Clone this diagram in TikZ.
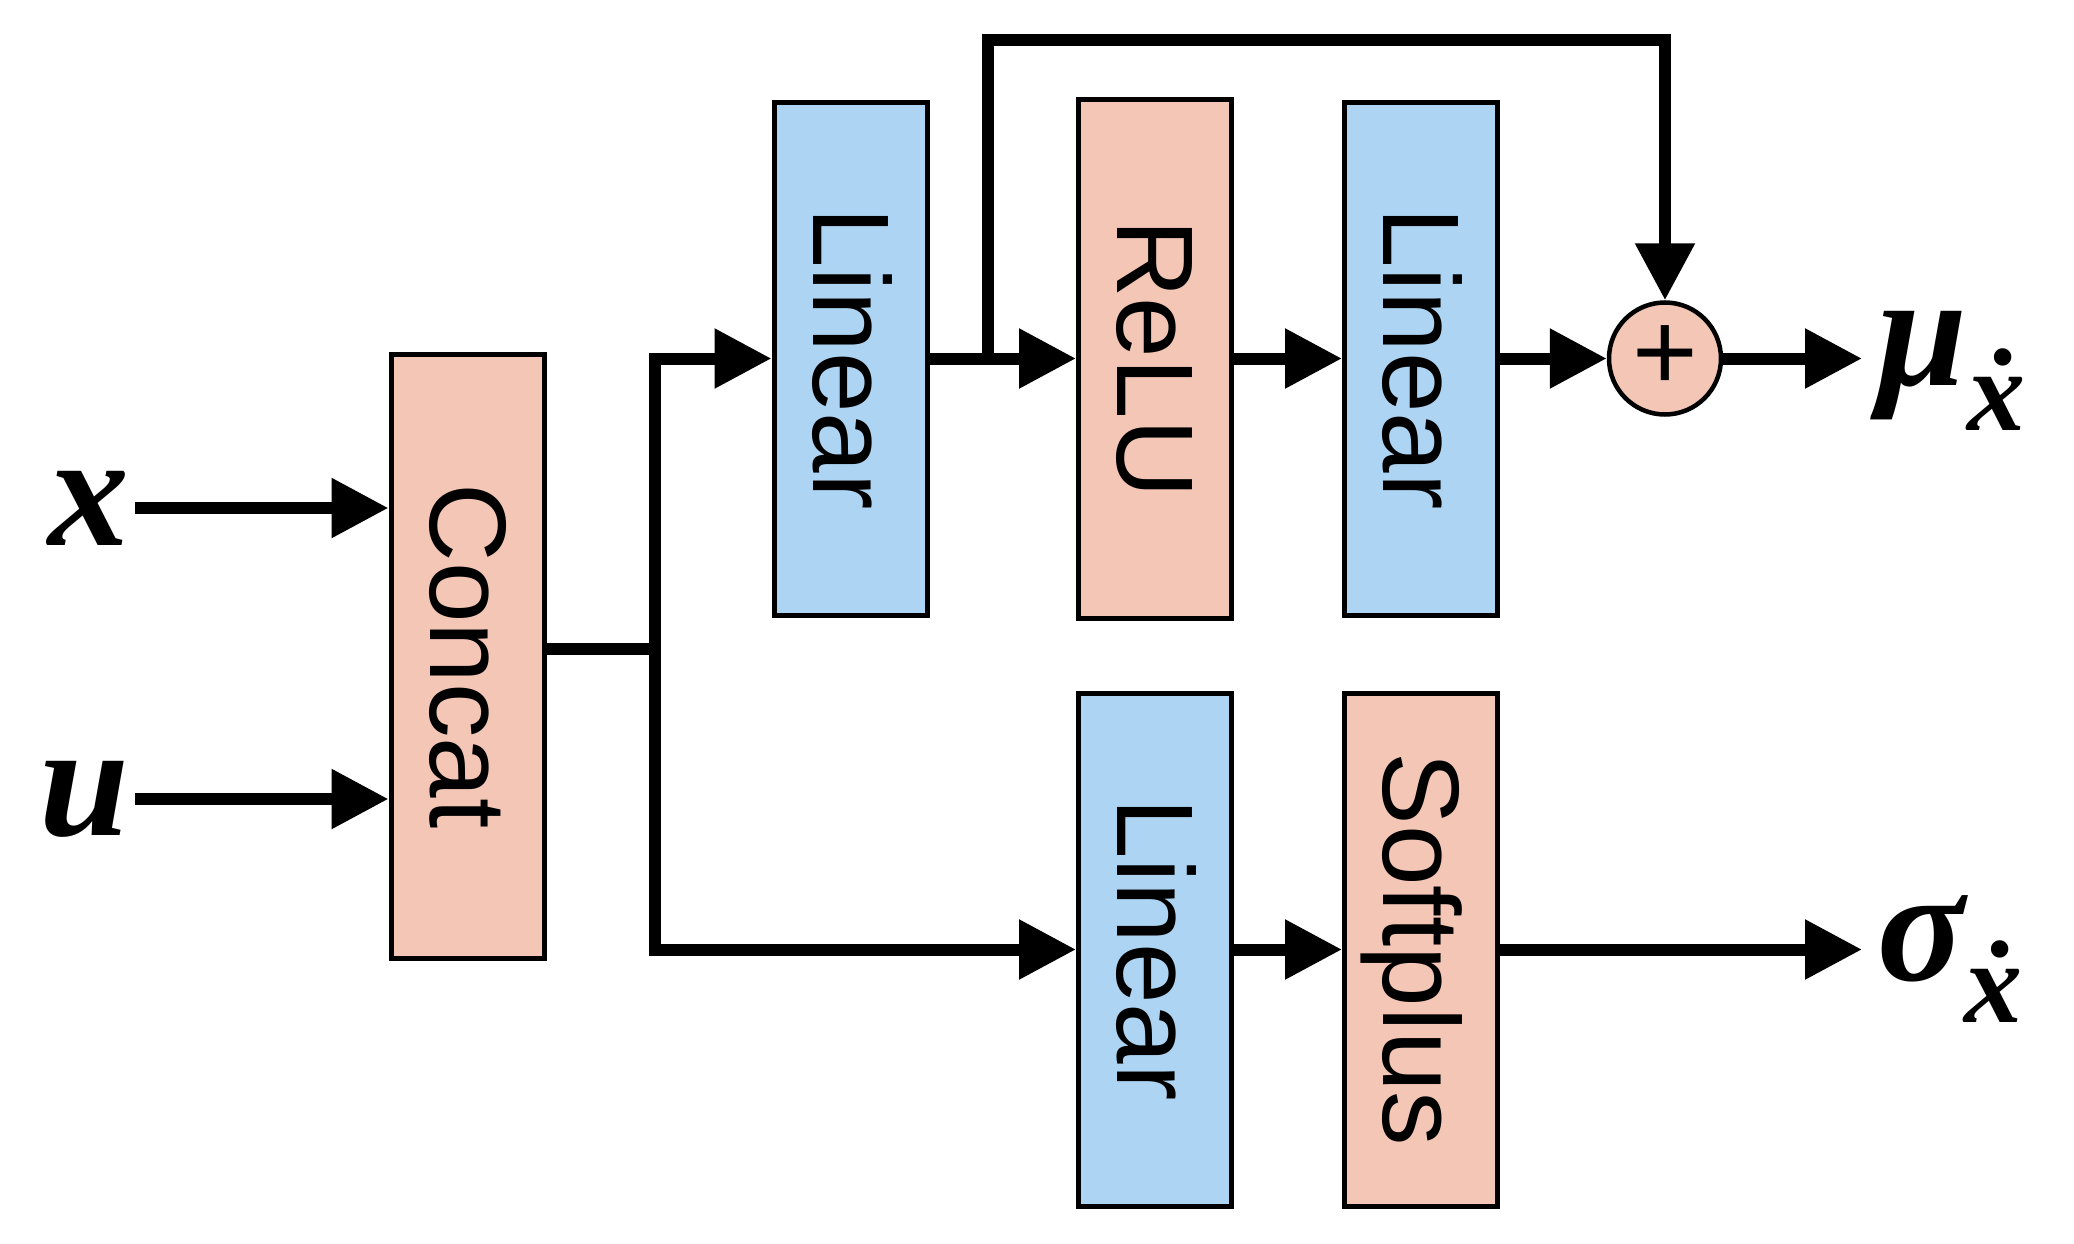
\documentclass[tikz,border=0pt]{standalone}
\usepackage{fontspec}
\setmainfont{Liberation Sans}
\newfontfamily\lblfont{Liberation Serif}
\usepackage{graphicx}
\usetikzlibrary{arrows.meta, positioning, calc}
\definecolor{linblue}{RGB}{173,213,243}
\definecolor{actpink}{RGB}{243,198,181}
\newcommand{\vlabel}[1]{\rotatebox{-90}{\vphantom{L}\smash{#1}}}

\begin{document}
\begin{tikzpicture}[
    box/.style={draw, line width=0.05cm, minimum width=1.53cm, inner sep=0pt, font=\fontsize{31}{36}\selectfont},
    lin/.style={box, fill=linblue, minimum height=5.13cm},
    act/.style={box, fill=actpink},
    wire/.style={line width=0.12cm},
    arr/.style={wire, -{Triangle[length=0.57cm, width=0.57cm]}},
    lbl/.style={inner sep=0.15cm, font=\lblfont\bfseries\itshape\fontsize{46}{50}\selectfont}
]
    \useasboundingbox (0,0) rectangle (20.74,-12.44);

    % blocks
    \node[act, minimum height=6.04cm] (concat) at (4.675,-6.56) {\vlabel{Concat}};
    \node[lin] (lin1) at (8.505,-3.585) {\vlabel{Linear}};
    \node[act, minimum height=5.19cm] (relu) at (11.55,-3.585) {\vlabel{ReLU}};
    \node[lin] (lin2) at (14.21,-3.585) {\vlabel{Linear}};
    \node[circle, draw, fill=actpink, line width=0.045cm, minimum size=1.12cm, inner sep=0pt,
          font=\fontsize{32}{36}\selectfont] (plus) at (16.65,-3.585) {\raisebox{-0.05cm}{+}};
    \node[lin] (lin3) at (11.55,-9.495) {\vlabel{Linear}};
    \node[act, minimum height=5.13cm] (soft) at (14.21,-9.495) {\vlabel{Softplus}};

    % inputs and outputs
    \node[lbl, inner xsep=0.05cm, anchor=east] (xin) at (1.35,-5.08) {x};
    \node[lbl, inner xsep=0.05cm, anchor=east] (uin) at (1.35,-7.99) {u};
    \node[lbl, anchor=base west] (mu) at (18.62,-3.85) {μ\raisebox{-0.45cm}{\fontsize{33}{36}\selectfont ẋ}};
    \node[lbl, anchor=base west] (sigma) at (18.62,-9.80) {σ\raisebox{-0.42cm}{\fontsize{33}{36}\selectfont ẋ}};

    \coordinate (br) at (6.55,-6.49);
    \coordinate (tap) at (9.88,-3.585);
    \coordinate (top) at (9.88,-0.40);

    \draw[arr] (xin) -- (xin -| concat.west);
    \draw[arr] (uin) -- (uin -| concat.west);
    \draw[wire] (concat.east |- br) -- (br);
    \draw[arr] (br) |- (lin1);
    \draw[arr] (br) |- (lin3);
    \draw[arr] (lin1) -- (relu);
    \draw[arr] (relu) -- (lin2);
    \draw[arr] (lin2) -- (plus);
    \draw[arr] (tap) -- (top) -| (plus);
    \draw[arr] (plus) -- (plus -| mu.west);
    \draw[arr] (lin3) -- (soft);
    \draw[arr] (soft) -- (soft -| sigma.west);
\end{tikzpicture}
\end{document}
